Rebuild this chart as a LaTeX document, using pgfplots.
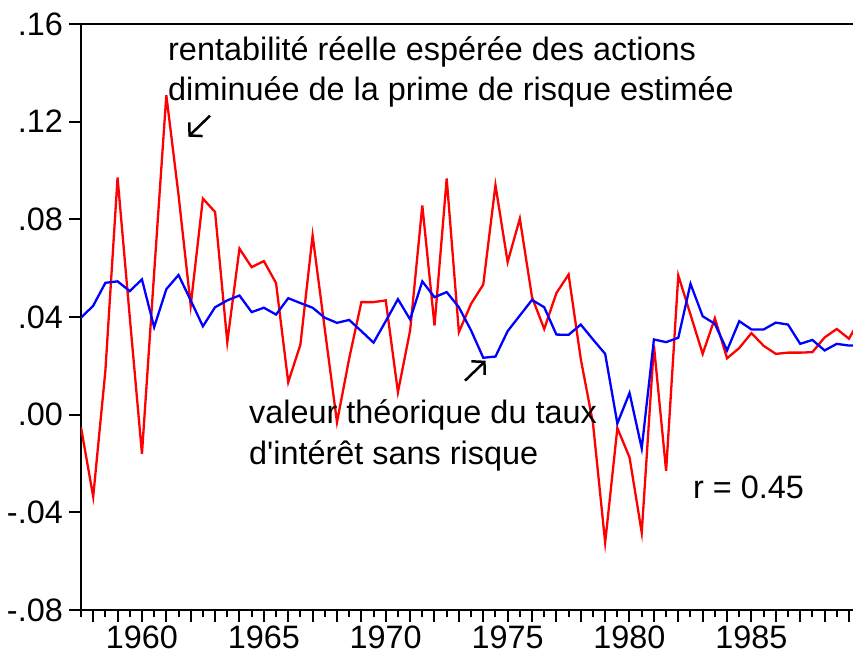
\documentclass[border=0pt]{standalone}
\usepackage{fontspec}
\setmainfont{Liberation Sans}[Ligatures=TeXOff]
\usepackage{pgfplots}
\usepackage{pgfplotstable}
\pgfplotsset{compat=1.18}
\usetikzlibrary{arrows.meta}

\pgfplotstableread{
x red blue
1957.5 -0.0052 0.0397
1958.0 -0.0336 0.0446
1958.5 0.018 0.054
1959.0 0.0971 0.0546
1959.5 0.040 0.0506
1960.0 -0.016 0.0554
1960.5 0.058 0.0358
1961.0 0.1308 0.0514
1961.5 0.090 0.0572
1962.0 0.0447 0.0468
1962.5 0.0885 0.0362
1963.0 0.083 0.044
1963.5 0.0297 0.0468
1964.0 0.068 0.0488
1964.5 0.0604 0.042
1965.0 0.0629 0.0438
1965.5 0.0539 0.041
1966.0 0.0133 0.0477
1966.5 0.0287 0.0457
1967.0 0.0734 0.0438
1967.5 0.035 0.0397
1968.0 -0.0031 0.0376
1968.5 0.023 0.0388
1969.0 0.0461 0.0342
1969.5 0.0461 0.0295
1970.0 0.0468 0.0383
1970.5 0.0092 0.0473
1971.0 0.0345 0.039
1971.5 0.0857 0.0546
1972.0 0.0365 0.0481
1972.5 0.0967 0.0502
1973.0 0.0338 0.044
1973.5 0.0454 0.0345
1974.0 0.0533 0.0233
1974.5 0.094 0.0238
1975.0 0.0625 0.0342
1975.5 0.0803 0.0406
1976.0 0.0481 0.047
1976.5 0.0351 0.044
1977.0 0.0498 0.0328
1977.5 0.0574 0.0327
1978.0 0.0228 0.0369
1978.5 -0.0035 0.0308
1979.0 -0.0524 0.0249
1979.5 -0.0055 -0.0036
1980.0 -0.0175 0.0089
1980.5 -0.0483 -0.0138
1981.0 0.0283 0.0308
1981.5 -0.023 0.0297
1982.0 0.057 0.0315
1982.5 0.041 0.0536
1983.0 0.0249 0.0403
1983.5 0.0395 0.0372
1984.0 0.0231 0.0263
1984.5 0.0273 0.0383
1985.0 0.0334 0.0349
1985.5 0.0282 0.0349
1986.0 0.0249 0.0377
1986.5 0.0254 0.0369
1987.0 0.0254 0.029
1987.5 0.0256 0.0306
1988.0 0.0316 0.0263
1988.5 0.0351 0.029
1989.0 0.0311 0.0283
1989.5 0.040 0.0285
}\data

\begin{document}
\begin{tikzpicture}[x=1pt,y=1pt]
\useasboundingbox (0,0) rectangle (853,664);
\begin{axis}[
  at={(81pt,54pt)}, anchor=south west,
  scale only axis, width=772pt, height=586pt,
  xmin=1957.5, xmax=1989.166, ymin=-0.08, ymax=0.16,
  axis x line*=bottom, axis y line*=left,
  tick align=outside,
  xtick={1958,...,1989},
  xticklabels={,,1960,,,,,1965,,,,,1970,,,,,1975,,,,,1980,,,,,1985},
  minor xtick={1957.5,1958.5,...,1988.5},
  ytick={-0.08,-0.04,0,0.04,0.08,0.12,0.16},
  yticklabels={-.08,-.04,.00,.04,.08,.12,.16},
  major tick length=12pt, minor tick length=7pt,
  every tick/.style={black,line width=2pt},
  axis line style={line width=2pt},
  tick label style={font=\fontsize{32.4}{38}\selectfont},
  yticklabel style={inner sep=2pt, xshift=-4pt},
  xticklabel style={inner sep=2pt, yshift=-2pt},
]
\addplot[color={rgb,255:red,255;green,0;blue,0}, line width=2.3pt] table[x=x,y=red] {\data};
\addplot[color={rgb,255:red,0;green,0;blue,255}, line width=2.3pt] table[x=x,y=blue] {\data};
\end{axis}
\draw[line width=2pt] (80,640) -- (853,640);
\begin{scope}[every node/.style={font=\fontsize{32.4}{38}\selectfont, inner sep=0pt}]
\node[anchor=base west] at (168,603) {rentabilité réelle espérée des actions};
\node[anchor=base west] at (168,563) {diminuée de la prime de risque estimée};
\node[anchor=base west] at (249,240) {valeur théorique du taux};
\node[anchor=base west] at (249,200) {d'intérêt sans risque};
\node[anchor=base west] at (693,166) {r = 0.45};
\end{scope}
\draw[line width=2.5pt, -{Straight Barb[length=9pt,width=19pt]}] (210,548.3) -- (188.3,527.3);
\draw[line width=2.5pt, -{Straight Barb[length=9pt,width=19pt]}] (465,283.3) -- (485.7,303.3);
\end{tikzpicture}
\end{document}
